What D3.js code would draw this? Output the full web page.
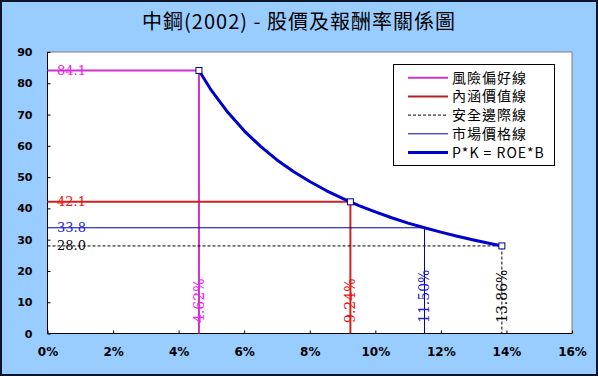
<!DOCTYPE html>
<html>
<head>
<meta charset="utf-8">
<script src="https://cdn.jsdelivr.net/npm/d3@7"></script>
<style>
  body { margin: 0; background: #fff; }
  svg { display: block; }
  .axis text { font-family: "DejaVu Sans", Verdana, sans-serif; font-weight: bold; font-size: 11px; fill: #000; }
  .axis.x text { font-size: 12px; }
</style>
</head>
<body>
<svg width="598" height="376"></svg>
<script>
// data
var curveK = [4.62, 5.0, 5.5, 6.0, 6.5, 7.0, 7.5, 8.0, 8.5, 9.0, 9.24, 9.5, 10.0, 10.5, 11.0, 11.5, 12.0, 12.5, 13.0, 13.5, 13.86];
var curveP = [84.1, 77.7, 70.7, 64.8, 59.8, 55.5, 51.8, 48.6, 45.7, 43.2, 42.1, 40.9, 38.9, 37.0, 35.3, 33.8, 32.4, 31.1, 29.9, 28.8, 28.0];
var markerK = [4.62, 9.24, 13.86];
var markerP = [84.1, 42.1, 28.0];

var refNames = ["風險偏好線", "內涵價值線", "安全邊際線", "市場價格線"];
var refK = [4.62, 9.24, 13.86, 11.50];
var refP = [84.1, 42.1, 28.0, 33.8];
var refKLabels = ["4.62%", "9.24%", "13.86%", "11.50%"];
var refPLabels = ["84.1", "42.1", "28.0", "33.8"];
var curveName = "P*K = ROE*B";

var xTicks = [0, 2, 4, 6, 8, 10, 12, 14, 16];
var yTicks = [0, 10, 20, 30, 40, 50, 60, 70, 80, 90];

// looks
var refStyle = [
  {line: "#cc33cc", text: "#ee22ee", w: 2, dash: null},
  {line: "#cc2222", text: "#ee1111", w: 2, dash: null},
  {line: "#000000", text: "#000000", w: 1, dash: "3,2"},
  {line: "#0000aa", text: "#2222cc", w: 1, dash: null}
];
var legendColors = ["#cc33cc", "#b22222", "#000000", "#0000aa"];

var svg = d3.select("svg"),
    width = 598, height = 376;

var plotL = 47.5, plotR = 572, plotT = 52, plotB = 333.5;

// background + outer frame
svg.append("rect")
    .attr("x", 1).attr("y", 1)
    .attr("width", width - 2).attr("height", height - 2)
    .attr("fill", "#99ccff")
    .attr("stroke", "#0a1428")
    .attr("stroke-width", 2);

svg.append("text")
    .attr("x", width / 2)
    .attr("y", 29)
    .attr("text-anchor", "middle")
    .attr("font-family", "'Noto Sans CJK TC', 'Noto Sans', sans-serif")
    .attr("font-size", 20)
    .attr("letter-spacing", 1)
    .attr("fill", "#000")
    .text("中鋼(2002) - 股價及報酬率關係圖");

var x = d3.scaleLinear().domain([0, 16]).range([plotL, plotR]);
var y = d3.scaleLinear().domain([0, 90]).range([plotB, plotT]);

// plot area
svg.append("rect")
    .attr("x", plotL).attr("y", plotT)
    .attr("width", plotR - plotL).attr("height", plotB - plotT)
    .attr("fill", "#fff")
    .attr("stroke", "#808080")
    .attr("stroke-width", 1);

// axes
var yAxis = svg.append("g")
    .attr("class", "axis y")
    .attr("transform", "translate(" + plotL + ",0)")
    .call(d3.axisLeft(y).tickValues(yTicks).tickSize(-3).tickPadding(15));
yAxis.select(".domain").remove();
yAxis.selectAll("line").attr("stroke", "#000");

var xAxis = svg.append("g")
    .attr("class", "axis x")
    .attr("transform", "translate(0," + plotB + ")")
    .call(d3.axisBottom(x).tickValues(xTicks).tickSize(-3).tickPadding(14)
      .tickFormat(function(d) { return d + "%"; }));
xAxis.select(".domain").remove();
xAxis.selectAll("line").attr("stroke", "#000");

svg.append("line")
    .attr("x1", plotL).attr("x2", plotL)
    .attr("y1", plotT).attr("y2", plotB)
    .attr("stroke", "#000");
svg.append("line")
    .attr("x1", plotL).attr("x2", plotR)
    .attr("y1", plotB).attr("y2", plotB)
    .attr("stroke", "#000");

// reference lines: horizontal to the curve, then down to the axis
var refs = refK.map(function(k, i) {
  return {k: k, p: refP[i], kl: refKLabels[i], pl: refPLabels[i], s: refStyle[i]};
});

var refG = svg.append("g");
refs.forEach(function(d) {
  refG.append("path")
      .attr("d", "M" + x(0) + "," + y(d.p) + "H" + x(d.k) + "V" + y(0))
      .attr("fill", "none")
      .attr("stroke", d.s.line)
      .attr("stroke-width", d.s.w)
      .attr("stroke-dasharray", d.s.dash);
});

// curve
var line = d3.line()
    .x(function(d, i) { return x(curveK[i]); })
    .y(function(d, i) { return y(curveP[i]); });

svg.append("path")
    .datum(curveP)
    .attr("d", line)
    .attr("fill", "none")
    .attr("stroke", "#0000cc")
    .attr("stroke-width", 3)
    .attr("stroke-linejoin", "round");

svg.append("g").selectAll("rect")
    .data(markerK)
    .join("rect")
      .attr("x", function(d) { return x(d) - 3; })
      .attr("y", function(d, i) { return y(markerP[i]) - 3; })
      .attr("width", 6).attr("height", 6)
      .attr("fill", "#fff")
      .attr("stroke", "#000080")
      .attr("stroke-width", 1);

// value labels
var labelFont = "'DejaVu Serif', 'Liberation Serif', serif";
refs.forEach(function(d) {
  refG.append("text")
      .attr("x", 57)
      .attr("y", y(d.p))
      .attr("dy", "0.35em")
      .attr("font-family", labelFont)
      .attr("font-size", 13)
      .attr("fill", d.s.text)
      .text(d.pl);

  refG.append("text")
      .attr("transform", "translate(" + x(d.k) + "," + 323 + ") rotate(-90)")
      .attr("dy", "0.35em")
      .attr("font-family", labelFont)
      .attr("font-size", 14)
      .attr("fill", d.s.text)
      .text(d.kl);
});

// legend
var legend = svg.append("g");
legend.append("rect")
    .attr("x", 393.5).attr("y", 64.5)
    .attr("width", 161).attr("height", 101)
    .attr("fill", "#fff")
    .attr("stroke", "#000");

var legendItems = refNames.map(function(n, i) {
  return {name: n, color: legendColors[i], w: refStyle[i].w, dash: refStyle[i].dash};
});
legendItems.push({name: curveName, color: "#0000cc", w: 3, dash: null});

var item = legend.selectAll("g.item")
    .data(legendItems)
    .join("g")
      .attr("class", "item")
      .attr("transform", function(d, i) { return "translate(0," + (77.7 + i * 18.7) + ")"; });

item.append("line")
    .attr("x1", 408).attr("x2", 448)
    .attr("stroke", function(d) { return d.color; })
    .attr("stroke-width", function(d) { return d.w; })
    .attr("stroke-dasharray", function(d) { return d.dash; });

item.append("text")
    .attr("x", 452)
    .attr("dy", "0.36em")
    .attr("font-family", "'Noto Sans CJK TC', 'Noto Sans', sans-serif")
    .attr("font-size", 14)
    .attr("letter-spacing", 1)
    .attr("fill", "#000")
    .text(function(d) { return d.name; });
</script>
</body>
</html>
